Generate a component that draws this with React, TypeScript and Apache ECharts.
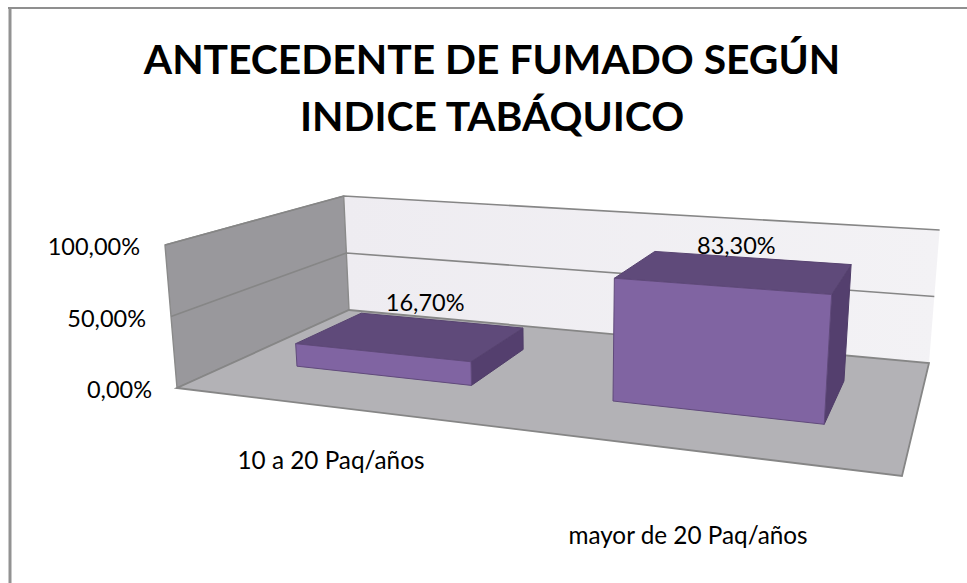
import React, { useEffect, useRef } from "react";
import * as echarts from "echarts";

const titleLines = ["ANTECEDENTE DE FUMADO SEGÚN", "INDICE TABÁQUICO"];
const categories = ["10 a 20 Paq/años", "mayor de 20 Paq/años"];
const values = [0.167, 0.833];
const valueLabels = ["16,70%", "83,30%"];
const yTicks = [0, 0.5, 1];
const yTickLabels = ["0,00%", "50,00%", "100,00%"];

const FONT = "Lato, Carlito, sans-serif";
// scene corners (floor)
const F0 = [177, 388], F1 = [902, 476], B0 = [349, 310], B1 = [929, 363];
const G = { left: 100, top: 100, width: 800, height: 300 };
const DEPTH = [0.31, 0.72];
const BAR_WIDTH = 0.575;
const BAR_SHIFT = -0.004;
const CAT_LABEL_POS = [[331, 459], [688, 534]];
const VALUE_LABEL_OFFSET = [[-15, -18], [-14, -13]];

function homography(p00: number[], p10: number[], p01: number[], p11: number[]) {
  const dx1 = p10[0] - p11[0], dx2 = p01[0] - p11[0], sx = p00[0] - p10[0] + p11[0] - p01[0];
  const dy1 = p10[1] - p11[1], dy2 = p01[1] - p11[1], sy = p00[1] - p10[1] + p11[1] - p01[1];
  const d = dx1 * dy2 - dx2 * dy1;
  const g = (sx * dy2 - dx2 * sy) / d, h = (dx1 * sy - sx * dy1) / d;
  const a = p10[0] - p00[0] + g * p10[0], b = p01[0] - p00[0] + h * p01[0], c = p00[0];
  const e = p10[1] - p00[1] + g * p10[1], f = p01[1] - p00[1] + h * p01[1], i = p00[1];
  return (u: number, v: number) => {
    const w = g * u + h * v + 1;
    return [(a * u + b * v + c) / w, (e * u + f * v + i) / w];
  };
}
const floor = homography(F0, F1, B0, B1);
const project = (u: number, v: number, w: number) => {
  const [x, y] = floor(u, v);
  const fullHeight = 143 + 0.37 * (y - 388) - 0.001 * (x - 177);
  const lean = -0.084 + (0.164 * (x - 177)) / 752;
  return [x + lean * fullHeight * w, y - fullHeight * w];
};
const poly = (points: number[][], fill: any, stroke: string, lineWidth = 1) => ({
  type: "polygon",
  shape: { points },
  style: { fill, stroke, lineWidth, lineJoin: "miter" },
});
const linear = (x: number, y: number, x2: number, y2: number, a: string, b: string) => ({
  type: "linear", x, y, x2, y2,
  colorStops: [{ offset: 0, color: a }, { offset: 1, color: b }],
});

export default function App() {
  const ref = useRef<HTMLDivElement>(null);
  useEffect(() => {
    const chart = echarts.init(ref.current!, undefined, { renderer: "svg" });
    const toW = (api: any, val: number) => (G.top + G.height - api.coord([0, val])[1]) / G.height;
    chart.setOption({
      animation: false,
      backgroundColor: "#fff",
      textStyle: { fontFamily: FONT },
      title: {
        text: titleLines.join("\n"),
        left: 487,
        top: 25,
        textAlign: "center",
        textStyle: { fontFamily: FONT, fontWeight: "bold", fontSize: 40.8, lineHeight: 57, color: "#000" },
      },
      grid: { ...G },
      xAxis: { type: "category", data: categories, show: false },
      yAxis: { type: "value", min: 0, max: 1, interval: 0.5, show: false },
      graphic: [
        { type: "line", shape: { x1: 10, y1: 583, x2: 10, y2: 7 }, style: { stroke: "#929292", lineWidth: 3 }, silent: true },
        { type: "line", shape: { x1: 8, y1: 8, x2: 967, y2: 8 }, style: { stroke: "#8f8f8f", lineWidth: 2 }, silent: true },
      ],
      series: [
        {
          type: "custom",
          name: "walls",
          data: yTicks,
          z: 1,
          renderItem: (_p: any, api: any) => {
            const idx = _p.dataIndex;
            const w = toW(api, yTicks[idx]);
            const children: any[] = [];
            if (idx === 0) {
              children.push(poly([project(0, 1, 0), project(1, 1, 0), project(1, 1, 1), project(0, 1, 1)],
                linear(0, 0, 1, 0, "#eeecf1", "#f3f2f5"), "transparent", 0));
              children.push(poly([project(0, 0, 0), project(0, 1, 0), project(0, 1, 1), project(0, 0, 1)],
                "#99989c", "#8a8a8a", 1.4));
              children.push(poly([project(0, 0, 0), project(1, 0, 0), project(1, 1, 0), project(0, 1, 0)],
                "#b3b2b6", "#868686", 1.8));
            } else {
              const pts = [project(0, 0, w), project(0, 1, w), project(1, 1, w)];
              children.push({ type: "polyline", shape: { points: pts }, style: { fill: "none", stroke: "#868686", lineWidth: 1.6 } });
            }
            const p = project(0, 0, w);
            children.push({
              type: "text",
              style: {
                text: yTickLabels[idx], x: p[0] - 25, y: p[1] + 1, align: "right", verticalAlign: "middle",
                fontFamily: FONT, fontSize: 23.5, fill: "#000",
              },
            });
            return { type: "group", children };
          },
        },
        {
          type: "custom",
          name: "bars",
          data: values.map((v, i) => [i, v]),
          z: 2,
          renderItem: (_p: any, api: any) => {
            const cx = api.coord([api.value(0), 0])[0];
            const bw = api.size([1, 0])[0] * BAR_WIDTH;
            const u0 = (cx - bw / 2 - G.left) / G.width + BAR_SHIFT;
            const u1 = (cx + bw / 2 - G.left) / G.width + BAR_SHIFT;
            const w = toW(api, api.value(1));
            const [v0, v1] = DEPTH;
            const mid = project((u0 + u1) / 2, v1, w);
            const lab = CAT_LABEL_POS[_p.dataIndex];
            const off = VALUE_LABEL_OFFSET[_p.dataIndex];
            return {
              type: "group",
              children: [
                poly([project(u1, v0, 0), project(u1, v1, 0), project(u1, v1, w), project(u1, v0, w)], "#543f6e", "#4f3c68", 1),
                poly([project(u0, v0, w), project(u1, v0, w), project(u1, v1, w), project(u0, v1, w)], "#5f4a7a", "#574370", 1),
                poly([project(u0, v0, 0), project(u1, v0, 0), project(u1, v0, w), project(u0, v0, w)], "#8064a2", "#604a7b", 1),
                {
                  type: "text",
                  style: { text: valueLabels[_p.dataIndex], x: mid[0] + off[0], y: mid[1] + off[1], align: "center", verticalAlign: "middle", fontFamily: FONT, fontSize: 23.5, fill: "#000" },
                },
                {
                  type: "text",
                  style: { text: categories[_p.dataIndex], x: lab[0], y: lab[1], align: "center", verticalAlign: "middle", fontFamily: FONT, fontSize: 24.3, fill: "#000" },
                },
              ],
            };
          },
        },
      ],
    });
    return () => chart.dispose();
  }, []);
  return <div ref={ref} style={{ position: "fixed", left: 0, top: 0, width: 967, height: 583 }} />;
}
